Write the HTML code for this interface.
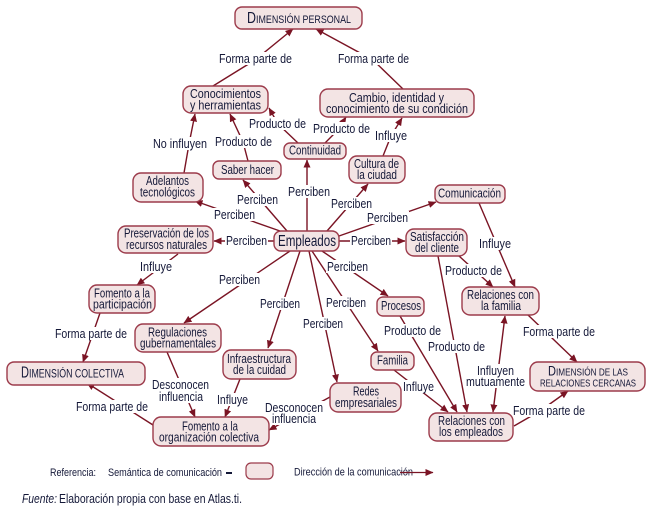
<!DOCTYPE html>
<html><head><meta charset="utf-8"><style>
html,body{margin:0;padding:0;background:#fff;}
svg{display:block;}
text{font-family:"Liberation Sans Narrow","Liberation Sans",sans-serif;fill:#141838;}
.l{font-size:13px;}
.n{font-size:12.5px;}
.e{stroke:#7a1424;stroke-width:1.4;fill:none;}
.b{fill:#f3e4e4;stroke:#9c3b4b;stroke-width:1.4;}
.w{fill:#fff;}
</style></head><body>
<svg width="657" height="509" viewBox="0 0 657 509" xmlns="http://www.w3.org/2000/svg">
<defs>
<marker id="a" markerWidth="8" markerHeight="7" refX="7.5" refY="3.5" orient="auto-start-reverse" markerUnits="userSpaceOnUse">
<path d="M0,0 L8,3.5 L0,7 z" fill="#7a1424"/>
</marker>
</defs>

<!-- edges -->
<g class="e">
<polyline points="213,86 255,60 293,29" marker-end="url(#a)"/>
<polyline points="403,89 373,60 316,29" marker-end="url(#a)"/>
<polyline points="248,161 243,142 230,114" marker-end="url(#a)"/>
<polyline points="298,143 278,124 269,108" marker-end="url(#a)"/>
<polyline points="325,143 338,130 346,117" marker-end="url(#a)"/>
<polyline points="383,156 391,136 402,118" marker-end="url(#a)"/>
<polyline points="184,173 189,144 195,114" marker-end="url(#a)"/>
<line x1="307" y1="231" x2="307" y2="160" marker-end="url(#a)"/>
<line x1="287" y1="231" x2="243" y2="180" marker-end="url(#a)"/>
<line x1="280" y1="231" x2="195" y2="201" marker-end="url(#a)"/>
<line x1="274" y1="241" x2="214" y2="241" marker-end="url(#a)"/>
<line x1="327" y1="231" x2="368" y2="184" marker-end="url(#a)"/>
<line x1="339" y1="236" x2="436" y2="202" marker-end="url(#a)"/>
<line x1="339" y1="241" x2="405" y2="241" marker-end="url(#a)"/>
<line x1="322" y1="251" x2="388" y2="296" marker-end="url(#a)"/>
<line x1="290" y1="251" x2="184" y2="323" marker-end="url(#a)"/>
<line x1="300" y1="251" x2="268" y2="348" marker-end="url(#a)"/>
<line x1="309" y1="251" x2="337" y2="382" marker-end="url(#a)"/>
<line x1="312" y1="251" x2="378" y2="351" marker-end="url(#a)"/>
<line x1="479" y1="203" x2="515" y2="287" marker-end="url(#a)"/>
<line x1="459" y1="256" x2="493" y2="287" marker-end="url(#a)"/>
<line x1="438" y1="256" x2="467" y2="412" marker-end="url(#a)"/>
<line x1="400" y1="316" x2="457" y2="412" marker-end="url(#a)"/>
<line x1="394" y1="370" x2="448" y2="412" marker-end="url(#a)"/>
<polyline points="505,316 497,380 493,412" marker-start="url(#a)" marker-end="url(#a)"/>
<line x1="528" y1="315" x2="577" y2="362" marker-end="url(#a)"/>
<polyline points="514,426 540,411 568,391" marker-end="url(#a)"/>
<line x1="178" y1="254" x2="137" y2="285" marker-end="url(#a)"/>
<line x1="100" y1="313" x2="83" y2="362" marker-end="url(#a)"/>
<line x1="153" y1="425" x2="87" y2="383" marker-end="url(#a)"/>
<line x1="167" y1="352" x2="195" y2="417" marker-end="url(#a)"/>
<line x1="240" y1="379" x2="225" y2="417" marker-end="url(#a)"/>
<line x1="330" y1="397" x2="269" y2="430" marker-end="url(#a)"/>
</g>

<!-- edge labels -->
<g class="l" text-anchor="middle">
<rect class="w" x="218" y="52" width="75" height="13"/><text x="255.5" y="63" textLength="73" lengthAdjust="spacingAndGlyphs">Forma parte de</text>
<rect class="w" x="337" y="52" width="73" height="13"/><text x="373.5" y="63" textLength="71" lengthAdjust="spacingAndGlyphs">Forma parte de</text>
<rect class="w" x="214" y="135" width="59" height="13"/><text x="243.5" y="146" textLength="57" lengthAdjust="spacingAndGlyphs">Producto de</text>
<rect class="w" x="248" y="117" width="59" height="13"/><text x="277.5" y="128" textLength="57" lengthAdjust="spacingAndGlyphs">Producto de</text>
<rect class="w" x="312" y="122" width="59" height="13"/><text x="341.5" y="133" textLength="57" lengthAdjust="spacingAndGlyphs">Producto de</text>
<rect class="w" x="374" y="129" width="34" height="13"/><text x="391" y="140" textLength="32" lengthAdjust="spacingAndGlyphs">Influye</text>
<rect class="w" x="152" y="137" width="56" height="13"/><text x="180" y="148" textLength="54" lengthAdjust="spacingAndGlyphs">No influyen</text>

<rect class="w" x="287" y="185" width="44" height="13"/><text x="309" y="196" textLength="42" lengthAdjust="spacingAndGlyphs">Perciben</text>
<rect class="w" x="236" y="193" width="43" height="13"/><text x="257.5" y="204" textLength="41" lengthAdjust="spacingAndGlyphs">Perciben</text>
<rect class="w" x="213" y="208" width="43" height="13"/><text x="234.5" y="219" textLength="41" lengthAdjust="spacingAndGlyphs">Perciben</text>
<rect class="w" x="225" y="234" width="43" height="13"/><text x="246.5" y="245" textLength="41" lengthAdjust="spacingAndGlyphs">Perciben</text>
<rect class="w" x="330" y="197" width="43" height="13"/><text x="351.5" y="208" textLength="41" lengthAdjust="spacingAndGlyphs">Perciben</text>
<rect class="w" x="366" y="211" width="43" height="13"/><text x="387.5" y="222" textLength="41" lengthAdjust="spacingAndGlyphs">Perciben</text>
<rect class="w" x="350" y="234" width="42" height="13"/><text x="371" y="245" textLength="40" lengthAdjust="spacingAndGlyphs">Perciben</text>
<rect class="w" x="326" y="260" width="43" height="13"/><text x="347.5" y="271" textLength="41" lengthAdjust="spacingAndGlyphs">Perciben</text>
<rect class="w" x="218" y="273" width="43" height="13"/><text x="239.5" y="284" textLength="41" lengthAdjust="spacingAndGlyphs">Perciben</text>
<rect class="w" x="259" y="297" width="42" height="13"/><text x="280" y="308" textLength="40" lengthAdjust="spacingAndGlyphs">Perciben</text>
<rect class="w" x="302" y="317" width="42" height="13"/><text x="323" y="328" textLength="40" lengthAdjust="spacingAndGlyphs">Perciben</text>
<rect class="w" x="325" y="296" width="42" height="13"/><text x="346" y="307" textLength="40" lengthAdjust="spacingAndGlyphs">Perciben</text>

<rect class="w" x="478" y="237" width="34" height="13"/><text x="495" y="248" textLength="32" lengthAdjust="spacingAndGlyphs">Influye</text>
<rect class="w" x="444" y="264" width="59" height="13"/><text x="473.5" y="275" textLength="57" lengthAdjust="spacingAndGlyphs">Producto de</text>
<rect class="w" x="427" y="340" width="59" height="13"/><text x="456.5" y="351" textLength="57" lengthAdjust="spacingAndGlyphs">Producto de</text>
<rect class="w" x="383" y="324" width="59" height="13"/><text x="412.5" y="335" textLength="57" lengthAdjust="spacingAndGlyphs">Producto de</text>
<rect class="w" x="402" y="380" width="33" height="13"/><text x="418.5" y="391" textLength="31" lengthAdjust="spacingAndGlyphs">Influye</text>
<rect class="w" x="465" y="364" width="61" height="24"/>
<text x="495.5" y="375" textLength="37" lengthAdjust="spacingAndGlyphs">Influyen</text>
<text x="495.5" y="386" textLength="59" lengthAdjust="spacingAndGlyphs">mutuamente</text>
<rect class="w" x="522" y="325" width="74" height="13"/><text x="559" y="336" textLength="72" lengthAdjust="spacingAndGlyphs">Forma parte de</text>
<rect class="w" x="512" y="404" width="74" height="13"/><text x="549" y="415" textLength="72" lengthAdjust="spacingAndGlyphs">Forma parte de</text>
<rect class="w" x="139" y="260" width="34" height="13"/><text x="156" y="271" textLength="32" lengthAdjust="spacingAndGlyphs">Influye</text>
<rect class="w" x="54" y="327" width="74" height="13"/><text x="91" y="338" textLength="72" lengthAdjust="spacingAndGlyphs">Forma parte de</text>
<rect class="w" x="75" y="400" width="74" height="13"/><text x="112" y="411" textLength="72" lengthAdjust="spacingAndGlyphs">Forma parte de</text>
<rect class="w" x="151" y="378" width="59" height="25"/>
<text x="180.5" y="389" textLength="57" lengthAdjust="spacingAndGlyphs">Desconocen</text>
<text x="181" y="401" textLength="44" lengthAdjust="spacingAndGlyphs">influencia</text>
<rect class="w" x="216" y="393" width="33" height="13"/><text x="232.5" y="404" textLength="31" lengthAdjust="spacingAndGlyphs">Influye</text>
<rect class="w" x="264" y="401" width="60" height="24"/>
<text x="294" y="412" textLength="58" lengthAdjust="spacingAndGlyphs">Desconocen</text>
<text x="294" y="423" textLength="44" lengthAdjust="spacingAndGlyphs">influencia</text>
</g>

<!-- nodes -->
<g>
<rect class="b" x="235" y="7" width="127" height="22" rx="7"/>
<rect class="b" x="183" y="86" width="85" height="27" rx="8"/>
<rect class="b" x="320" y="89" width="154" height="28" rx="8"/>
<rect class="b" x="284" y="143" width="62" height="16" rx="6"/>
<rect class="b" x="349" y="156" width="56" height="27" rx="8"/>
<rect class="b" x="213" y="161" width="68" height="18" rx="6"/>
<rect class="b" x="133" y="173" width="70" height="29" rx="8"/>
<rect class="b" x="435" y="185" width="70" height="18" rx="6"/>
<rect class="b" x="118" y="226" width="95" height="27" rx="8"/>
<rect class="b" x="274" y="231" width="65" height="20" rx="7"/>
<rect class="b" x="406" y="229" width="61" height="27" rx="8"/>
<rect class="b" x="89" y="285" width="66" height="28" rx="8"/>
<rect class="b" x="462" y="287" width="77" height="28" rx="8"/>
<rect class="b" x="377" y="297" width="47" height="19" rx="6"/>
<rect class="b" x="135" y="324" width="86" height="28" rx="8"/>
<rect class="b" x="223" y="350" width="73" height="29" rx="8"/>
<rect class="b" x="371" y="352" width="43" height="18" rx="6"/>
<rect class="b" x="7" y="362" width="138" height="23" rx="7"/>
<rect class="b" x="530" y="362" width="115" height="29" rx="8"/>
<rect class="b" x="330" y="383" width="71" height="29" rx="8"/>
<rect class="b" x="153" y="417" width="116" height="29" rx="8"/>
<rect class="b" x="429" y="413" width="84" height="28" rx="8"/>
</g>

<!-- node text -->
<g class="n" text-anchor="middle">
<text x="251.5" y="23" style="font-size:16px" textLength="9" lengthAdjust="spacingAndGlyphs">D</text>
<text x="303.5" y="23" style="font-size:11px" textLength="95" lengthAdjust="spacingAndGlyphs">IMENSIÓN PERSONAL</text>

<text x="225.5" y="98" style="font-size:13px" textLength="71" lengthAdjust="spacingAndGlyphs">Conocimientos</text>
<text x="225.5" y="109.5" style="font-size:13px" textLength="71" lengthAdjust="spacingAndGlyphs">y herramientas</text>

<text x="396.5" y="102" style="font-size:13px" textLength="95" lengthAdjust="spacingAndGlyphs">Cambio, identidad y</text>
<text x="397" y="113" style="font-size:13px" textLength="142" lengthAdjust="spacingAndGlyphs">conocimiento de su condición</text>

<text x="315" y="154.5" textLength="52" lengthAdjust="spacingAndGlyphs">Continuidad</text>

<text x="376.5" y="168" textLength="45" lengthAdjust="spacingAndGlyphs">Cultura de</text>
<text x="377" y="179" textLength="40" lengthAdjust="spacingAndGlyphs">la ciudad</text>

<text x="247.5" y="174" textLength="53" lengthAdjust="spacingAndGlyphs">Saber hacer</text>

<text x="167.5" y="185" textLength="43" lengthAdjust="spacingAndGlyphs">Adelantos</text>
<text x="167.5" y="196.5" textLength="55" lengthAdjust="spacingAndGlyphs">tecnológicos</text>

<text x="469.5" y="197.5" textLength="63" lengthAdjust="spacingAndGlyphs">Comunicación</text>

<text x="166.5" y="237.5" textLength="85" lengthAdjust="spacingAndGlyphs">Preservación de los</text>
<text x="166.5" y="249" textLength="81" lengthAdjust="spacingAndGlyphs">recursos naturales</text>

<text x="307" y="246" style="font-size:15.5px" textLength="58" lengthAdjust="spacingAndGlyphs">Empleados</text>

<text x="437" y="241" textLength="54" lengthAdjust="spacingAndGlyphs">Satisfacción</text>
<text x="437" y="252" textLength="44" lengthAdjust="spacingAndGlyphs">del cliente</text>

<text x="122" y="297.5" textLength="56" lengthAdjust="spacingAndGlyphs">Fomento a la</text>
<text x="122.5" y="308.5" textLength="59" lengthAdjust="spacingAndGlyphs">participación</text>

<text x="500.5" y="299" textLength="67" lengthAdjust="spacingAndGlyphs">Relaciones con</text>
<text x="501" y="310" textLength="40" lengthAdjust="spacingAndGlyphs">la familia</text>

<text x="401" y="310" textLength="40" lengthAdjust="spacingAndGlyphs">Procesos</text>

<text x="177.5" y="336.5" textLength="59" lengthAdjust="spacingAndGlyphs">Regulaciones</text>
<text x="178" y="347.5" textLength="76" lengthAdjust="spacingAndGlyphs">gubernamentales</text>

<text x="259" y="363" textLength="64" lengthAdjust="spacingAndGlyphs">Infraestructura</text>
<text x="259.5" y="374" textLength="53" lengthAdjust="spacingAndGlyphs">de la cuidad</text>

<text x="392.5" y="364.5" textLength="31" lengthAdjust="spacingAndGlyphs">Familia</text>

<text x="25" y="377.5" style="font-size:15.5px" textLength="8" lengthAdjust="spacingAndGlyphs">D</text>
<text x="76.5" y="377.5" style="font-size:11.5px" textLength="95" lengthAdjust="spacingAndGlyphs">IMENSIÓN COLECTIVA</text>

<text x="552" y="375.5" style="font-size:14px" textLength="8" lengthAdjust="spacingAndGlyphs">D</text>
<text x="592" y="375.5" style="font-size:10px" textLength="72" lengthAdjust="spacingAndGlyphs">IMENSIÓN DE LAS</text>
<text x="588" y="386.5" style="font-size:10px" textLength="96" lengthAdjust="spacingAndGlyphs">RELACIONES CERCANAS</text>

<text x="366" y="395.5" textLength="26" lengthAdjust="spacingAndGlyphs">Redes</text>
<text x="366" y="407" textLength="62" lengthAdjust="spacingAndGlyphs">empresariales</text>

<text x="210" y="430.5" textLength="56" lengthAdjust="spacingAndGlyphs">Fomento a la</text>
<text x="209" y="441.5" textLength="100" lengthAdjust="spacingAndGlyphs">organización colectiva</text>

<text x="471.5" y="425" textLength="67" lengthAdjust="spacingAndGlyphs">Relaciones con</text>
<text x="471" y="436" textLength="64" lengthAdjust="spacingAndGlyphs">los empleados</text>
</g>

<!-- legend -->
<g style="font-size:11px">
<text x="50" y="476" textLength="46" lengthAdjust="spacingAndGlyphs">Referencia:</text>
<text x="108" y="476" textLength="114" lengthAdjust="spacingAndGlyphs">Semántica de comunicación</text>
<line x1="226" y1="473" x2="232" y2="473" stroke="#141838" stroke-width="2"/>
<rect x="246" y="463" width="27" height="16" rx="5" fill="#f3e4e4" stroke="#9c3b4b" stroke-width="1.2"/>
<text x="294" y="475.5" textLength="119" lengthAdjust="spacingAndGlyphs">Dirección de la comunicación</text>
<line x1="400" y1="472.5" x2="433" y2="472.5" stroke="#7a1424" stroke-width="1.3" marker-end="url(#a)"/>
</g>
<text x="22" y="503" style="font-size:13px;font-style:italic" textLength="35" lengthAdjust="spacingAndGlyphs">Fuente:</text>
<text x="59" y="503" style="font-size:13px" textLength="183" lengthAdjust="spacingAndGlyphs">Elaboración propia con base en Atlas.ti.</text>
</svg>
</body></html>
